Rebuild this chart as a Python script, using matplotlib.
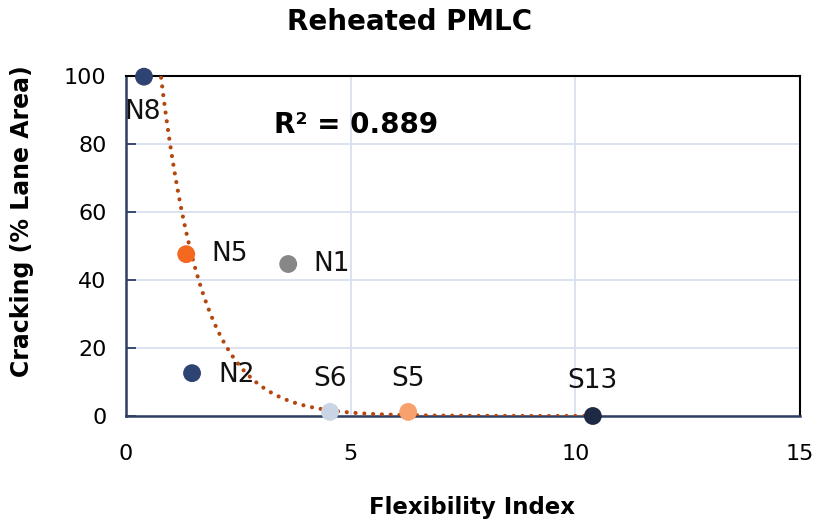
import numpy as np
import matplotlib
matplotlib.use("Agg")
import matplotlib.pyplot as plt

# data
names = ["N8", "N5", "N1", "N2", "S6", "S5", "S13"]
flex_index = [0.40, 1.34, 3.61, 1.47, 4.54, 6.28, 10.39]
cracking = [99.8, 47.6, 44.7, 12.6, 1.2, 1.2, 0.0]
colors = ["#2E4372", "#F4691F", "#878787", "#2E4372", "#C9D5E4", "#F7A16D", "#1E2A45"]
# label placement: (dx, dy) in points, ha, va
label_pos = [(-1, -16, "center", "top"), (18, 0, "left", "center"),
             (18, 0, "left", "center"), (19, -1, "left", "center"),
             (0, 14, "center", "bottom"), (0, 14, "center", "bottom"),
             (0, 16, "center", "bottom")]

# exponential trendline y = a * exp(b x)
trend_a = 233.0
trend_b = -1.09
r_squared = 0.889

plt.rcParams['font.family'] = ['DejaVu Sans']
fig = plt.figure(figsize=(8.15, 5.23), dpi=100)
ax = fig.add_axes([0.1546, 0.2046, 0.8270, 0.6501])

ax.set_xlim(0, 15)
ax.set_ylim(0, 100)
ax.set_xticks([0, 5, 10, 15])
ax.set_yticks(range(0, 101, 20))
ax.grid(True, color="#D9DFEE", linewidth=1.3)
ax.set_axisbelow(True)

xs = np.linspace(0.5, max(flex_index), 300)
ax.plot(xs, trend_a * np.exp(trend_b * xs), linestyle=(0, (0.01, 2.1)),
        color="#B4470F", linewidth=3.0, dash_capstyle="round", zorder=3)

ax.scatter(flex_index, cracking, s=165, c=colors, zorder=4, clip_on=False,
           linewidths=0)

for name, x, y, (dx, dy, ha, va) in zip(names, flex_index, cracking, label_pos):
    ax.annotate(name, (x, y), xytext=(dx, dy), textcoords="offset points",
                ha=ha, va=va, fontsize=19, color="#111111")

ax.text(0.22, 0.855, f"R² = {r_squared}", transform=ax.transAxes,
        fontsize=20, fontweight="bold", ha="left", va="center")

for side in ["left", "bottom"]:
    ax.spines[side].set_color("#2F3F63")
    ax.spines[side].set_linewidth(1.8)
for side in ["top", "right"]:
    ax.spines[side].set_color("black")
    ax.spines[side].set_linewidth(1.5)

ax.tick_params(axis="both", direction="in", length=7, width=1.3,
               color="#2F3F63", labelsize=16, pad=14)
ax.tick_params(axis="x", length=0, pad=20)

fig.text(0.503, 0.958, "Reheated PMLC", fontsize=20, fontweight="bold",
         ha="center", va="center")
ax.set_xlabel("Flexibility Index", fontsize=16.5, fontweight="bold",
              va="center", ha="center")
ax.xaxis.set_label_coords(0.514, -0.268)
ax.set_ylabel("Cracking (% Lane Area)", fontsize=17, fontweight="bold",
              va="center", ha="center")
ax.yaxis.set_label_coords(-0.154, 0.574)

fig.savefig("out.png", dpi=100)
